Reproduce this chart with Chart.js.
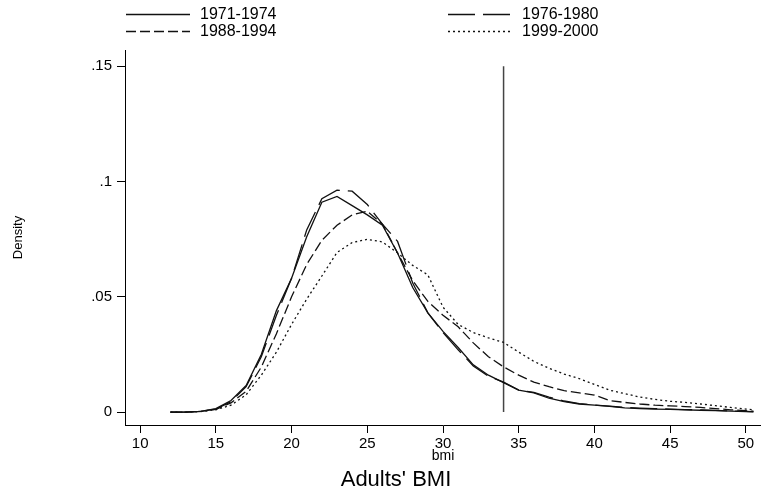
<!DOCTYPE html>
<html>
<head>
<meta charset="utf-8">
<script src="https://cdn.jsdelivr.net/npm/chart.js@4/dist/chart.umd.min.js"></script>
<style>
  html, body { margin: 0; padding: 0; background: #fff; }
</style>
</head>
<body>
<canvas id="chart" width="761" height="495"></canvas>
<script>
// kernel density grid (bmi)
var bmi = [12, 13, 14, 15, 16, 17, 18, 19, 20, 21,
           22, 23, 24, 25, 26, 27, 28, 29, 30, 31,
           32, 33, 34, 35, 36, 37, 38, 39, 40, 41,
           42, 43, 44, 45, 46, 47, 48, 49, 50, 50.5];

var d1971 = [0, 0, 0.0003, 0.0015, 0.005, 0.0115, 0.025, 0.044, 0.058, 0.076,
             0.091, 0.0935, 0.0895, 0.0855, 0.081, 0.069, 0.054, 0.043, 0.035, 0.028,
             0.0205, 0.016, 0.0128, 0.0095, 0.0083, 0.006, 0.0045, 0.0035, 0.003, 0.0025,
             0.0018, 0.0015, 0.0013, 0.0012, 0.001, 0.0008, 0.0006, 0.0004, 0.0002, 0.0001];

var d1976 = [0, 0, 0.0003, 0.0013, 0.0045, 0.011, 0.024, 0.042, 0.058, 0.079,
             0.0925, 0.0962, 0.0958, 0.09, 0.0815, 0.074, 0.056, 0.043, 0.0345, 0.027,
             0.02, 0.0155, 0.013, 0.0095, 0.0085, 0.0065, 0.0048, 0.0037, 0.003, 0.0026,
             0.002, 0.0017, 0.0015, 0.0013, 0.0011, 0.0009, 0.0007, 0.0005, 0.0003, 0.0002];

var d1988 = [0, 0, 0.0003, 0.0012, 0.004, 0.009, 0.0195, 0.034, 0.05, 0.064,
             0.0745, 0.081, 0.0855, 0.0871, 0.0815, 0.069, 0.057, 0.048, 0.042, 0.037,
             0.03, 0.024, 0.0196, 0.016, 0.013, 0.011, 0.0093, 0.0083, 0.0074, 0.005,
             0.0042, 0.0035, 0.003, 0.0027, 0.0024, 0.002, 0.0015, 0.001, 0.0006, 0.0004];

var d1999 = [0, 0, 0.0002, 0.001, 0.003, 0.0075, 0.016, 0.026, 0.038, 0.049,
             0.059, 0.0692, 0.0735, 0.0749, 0.0738, 0.069, 0.0636, 0.0595, 0.0455, 0.038,
             0.0345, 0.0322, 0.0302, 0.026, 0.022, 0.019, 0.0165, 0.0145, 0.012, 0.0095,
             0.008, 0.0065, 0.0055, 0.0047, 0.0042, 0.0035, 0.0028, 0.002, 0.0013, 0.001];

var seriesNames = ["1971-1974", "1976-1980", "1988-1994", "1999-2000"];
var cutoff = 34;
var cutoffRange = [0, 0.15];

var xTicks = [10, 15, 20, 25, 30, 35, 40, 45, 50];
var yTicks = [0, 0.05, 0.1, 0.15];
var yTickLabels = ["0", ".05", ".1", ".15"];

function pts(ys) {
    return bmi.map(function(x, i) { return {x: x, y: ys[i]}; });
}

var FONT = "'Liberation Sans', Arial, sans-serif";
Chart.defaults.font.family = FONT;
Chart.defaults.color = "#000";

// legend laid out 2x2 like the Stata one, plus the bottom caption
var stataLegend = {
    id: "stataLegend",
    afterDraw: function(chart) {
        var ctx = chart.ctx;
        var cols = [126, 448], rows = [14, 31];
        ctx.save();
        chart.data.datasets.forEach(function(ds, i) {
            if (ds.hideLegend) return;
            var x = cols[i % 2], y = rows[Math.floor(i / 2)];
            ctx.beginPath();
            ctx.setLineDash(ds.borderDash || []);
            ctx.lineWidth = ds.borderWidth;
            ctx.strokeStyle = ds.borderColor;
            ctx.moveTo(x, y + 0.5);
            ctx.lineTo(x + 64, y + 0.5);
            ctx.stroke();
            ctx.setLineDash([]);
            ctx.fillStyle = "#000";
            ctx.font = "16px " + FONT;
            ctx.textBaseline = "middle";
            ctx.textAlign = "left";
            ctx.fillText(ds.label, x + 74, y + 1);
        });
        ctx.font = "22px " + FONT;
        ctx.textAlign = "center";
        ctx.textBaseline = "middle";
        ctx.fillText("Adults' BMI", 396, 480);
        ctx.restore();
    }
};

var lineStyle = {
    borderColor: "#111",
    borderWidth: 1.3,
    pointRadius: 0,
    tension: 0,
    fill: false
};

var ctx = document.getElementById("chart").getContext("2d");
var chart = new Chart(ctx, {
    type: "line",
    data: {
        datasets: [
            Object.assign({label: seriesNames[0], data: pts(d1971)}, lineStyle),
            Object.assign({label: seriesNames[1], data: pts(d1976), borderDash: [27, 8]}, lineStyle),
            Object.assign({label: seriesNames[2], data: pts(d1988), borderDash: [10, 4]}, lineStyle),
            Object.assign({label: seriesNames[3], data: pts(d1999), borderDash: [2, 3]}, lineStyle),
            {
                label: "cutoff",
                hideLegend: true,
                data: [{x: cutoff, y: cutoffRange[0]}, {x: cutoff, y: cutoffRange[1]}],
                borderColor: "#444",
                borderWidth: 1.5,
                pointRadius: 0
            }
        ]
    },
    options: {
        responsive: false,
        animation: false,
        layout: { padding: { top: 50, right: 0, bottom: 30, left: 0 } },
        plugins: {
            legend: { display: false },
            tooltip: { enabled: false }
        },
        scales: {
            x: {
                type: "linear",
                min: 9,
                max: 51,
                afterFit: function(s) { s.height = 40; },
                afterBuildTicks: function(s) {
                    s.ticks = xTicks.map(function(v) { return {value: v}; });
                },
                grid: { drawOnChartArea: false, drawTicks: true, tickLength: 8, color: "#000", tickColor: "#000" },
                border: { display: true, color: "#000", width: 1 },
                ticks: { font: { size: 15 }, padding: 2, maxRotation: 0, color: "#000" },
                title: { display: true, text: "bmi", font: { size: 14 }, padding: { top: 0, bottom: 0 } }
            },
            y: {
                min: -0.0056,
                max: 0.157,
                afterFit: function(s) { s.width = 125; },
                afterBuildTicks: function(s) {
                    s.ticks = yTicks.map(function(v) { return {value: v}; });
                },
                grid: { drawOnChartArea: false, drawTicks: true, tickLength: 8, color: "#000", tickColor: "#000" },
                border: { display: true, color: "#000", width: 1 },
                ticks: {
                    font: { size: 15 },
                    padding: 5,
                    color: "#000",
                    callback: function(v) {
                        var i = yTicks.indexOf(v);
                        return i >= 0 ? yTickLabels[i] : "";
                    }
                },
                title: { display: true, text: "Density", font: { size: 13 }, padding: { top: 11, bottom: 0 } }
            }
        }
    },
    plugins: [stataLegend]
});
</script>
</body>
</html>
